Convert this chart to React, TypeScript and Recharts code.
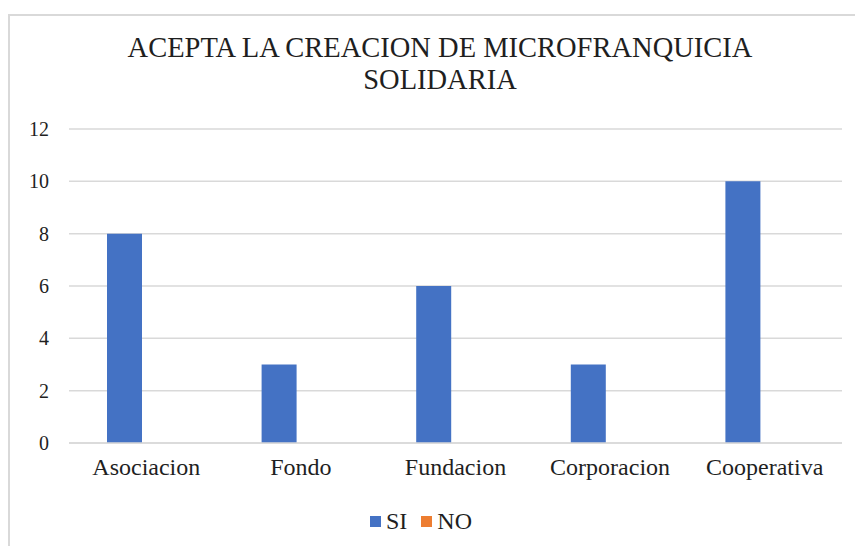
import { BarChart, Bar, XAxis, YAxis, CartesianGrid, Legend } from "recharts";

const categories = ["Asociacion", "Fondo", "Fundacion", "Corporacion", "Cooperativa"];
const siValues = [8, 3, 6, 3, 10];
const noValues = [0, 0, 0, 0, 0];
const yTicks = [0, 2, 4, 6, 8, 10, 12];
const seriesOrder = ["SI", "NO"];

const data = categories.map((name, i) => ({ name, SI: siValues[i], NO: noValues[i] }));

const font = '"Liberation Serif", "Times New Roman", serif';

const renderLegend = (props: any) => {
  const payload = [...(props.payload || [])].sort(
    (a: any, b: any) => seriesOrder.indexOf(a.value) - seriesOrder.indexOf(b.value)
  );
  return (
    <div style={{ display: "flex", justifyContent: "center", alignItems: "center", height: 30, fontFamily: font, fontSize: 24, color: "#1f1f1f" }}>
      {payload.map((entry: any) => (
        <div key={entry.value} style={{ display: "flex", alignItems: "center", margin: "0 7px" }}>
          <span style={{ width: 11, height: 11, background: entry.color, display: "inline-block", marginRight: 5 }} />
          <span>{entry.value}</span>
        </div>
      ))}
    </div>
  );
};

export default function App() {
  return (
    <div style={{ position: "absolute", left: 0, top: 0, width: 855, height: 546, background: "#fff", overflow: "hidden" }}>
      <div style={{ position: "absolute", left: 8, top: 14, width: 860, height: 540, borderTop: "2px solid #d9d9d9", borderLeft: "2px solid #d9d9d9" }} />
      <div style={{ position: "absolute", left: 40, width: 800, top: 32, textAlign: "center", fontFamily: font, fontSize: 28.5, lineHeight: "32px", color: "#1f1f1f" }}>
        ACEPTA LA CREACION DE MICROFRANQUICIA<br />SOLIDARIA
      </div>
      <div style={{ position: "absolute", left: 0, top: 0 }}>
        <BarChart width={855} height={546} data={data} margin={{ top: 129, right: 13, left: 0, bottom: 0 }} barSize={35} barGap={9}>
          <CartesianGrid vertical={false} stroke="#d9d9d9" strokeWidth={1.5} />
          <XAxis
            dataKey="name"
            axisLine={{ stroke: "#d9d9d9", strokeWidth: 1.5 }}
            tickLine={false}
            tickMargin={9}
            height={63}
            tick={{ fontFamily: font, fontSize: 24, fill: "#1f1f1f" }}
            interval={0}
          />
          <YAxis
            domain={[0, 12]}
            ticks={yTicks}
            width={69}
            axisLine={false}
            tickLine={false}
            tickMargin={14}
            tick={{ fontFamily: font, fontSize: 20, fill: "#1f1f1f" }}
          />
          <Legend verticalAlign="bottom" height={40} content={renderLegend} />
          <Bar dataKey="SI" fill="#4472C4" isAnimationActive={false} />
          <Bar dataKey="NO" fill="#ED7D31" isAnimationActive={false} />
        </BarChart>
      </div>
    </div>
  );
}
